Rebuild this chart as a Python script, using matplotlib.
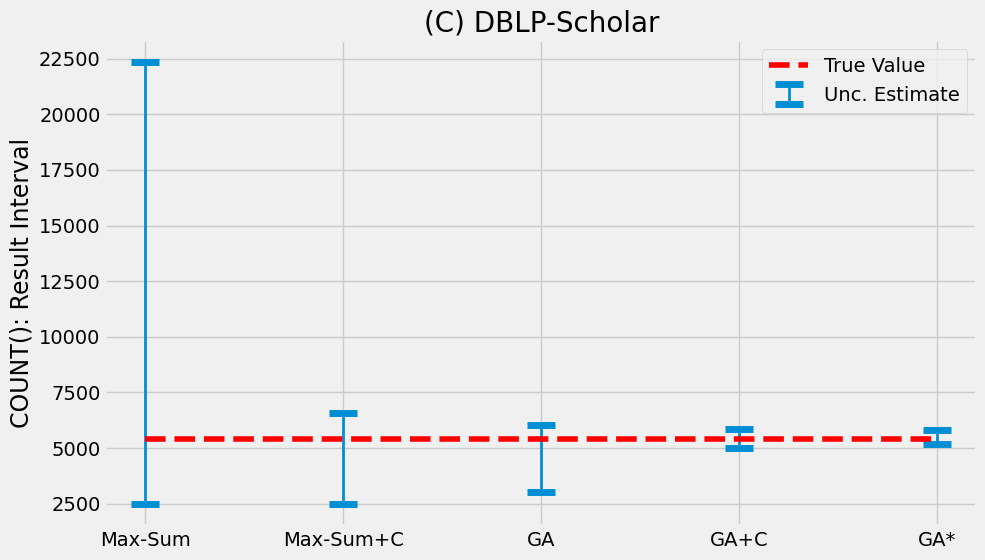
import numpy as np
import matplotlib
matplotlib.use('Agg')
import matplotlib.pyplot as plt

plt.style.use('fivethirtyeight')

methods = ['Max-Sum', 'Max-Sum+C', 'GA', 'GA+C', 'GA*']
lower = [2500, 2500, 3020, 5000, 5180]
upper = [22360, 6570, 6030, 5850, 5810]
true_value = 5390

fig, ax = plt.subplots(figsize=(9.85, 5.6), dpi=100)
fig.patch.set_facecolor('#f0f0f0')

x = np.arange(len(methods))
lo = np.array(lower)
hi = np.array(upper)
mid = (lo + hi) / 2
ax.plot(x, [true_value] * len(x), color='red', linestyle='--', linewidth=4, label='True Value', zorder=3)
ax.errorbar(x, mid, yerr=(hi - lo) / 2, fmt='none', ecolor='#008fd5',
            elinewidth=2, capsize=10, capthick=5, label='Unc. Estimate', zorder=2)

ax.set_xticks(x)
ax.set_xticklabels(methods)
ax.set_title('(C) DBLP-Scholar', fontsize=20)
ax.set_ylabel('COUNT(): Result Interval', fontsize=17)
ax.tick_params(labelsize=14)
ax.legend(loc='upper right', fontsize=14)

plt.subplots_adjust(left=0.107, right=0.992, top=0.929, bottom=0.061)
plt.savefig('out.png', dpi=100)
